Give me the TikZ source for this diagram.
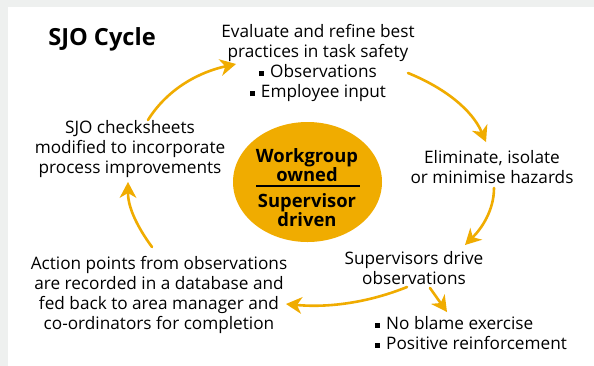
\documentclass[tikz,border=0pt]{standalone}
\usepackage{fontspec}
\setmainfont{Open Sans}
\usetikzlibrary{arrows.meta,shapes.geometric}
\definecolor{sjo}{HTML}{F0AC00}
\definecolor{bggrey}{HTML}{EEF0EF}
\tikzset{
  txt/.style={align=center, font=\fontsize{17.2}{20}\selectfont, inner sep=0pt},
  hubtxt/.style={align=center, font=\bfseries\fontsize{18.4}{18}\selectfont, inner sep=0pt},
  flow/.style={draw=sjo, line width=2.6pt, line cap=round,
    -{Stealth[length=16pt,width=17pt,inset=5pt,line width=0pt]}},
}
\newcommand{\sqbul}{\rule[1.5pt]{5pt}{5pt}\hspace{6pt}}
\begin{document}
\begin{tikzpicture}[x=1pt,y=-1pt]
\useasboundingbox (0,0) rectangle (594,365);
\fill[bggrey] (-5,-5) rectangle (600,370);
\fill[white] (8,7) rectangle (600,370);

\node[font=\bfseries\fontsize{23.6}{24}\selectfont, inner sep=0pt] (title) at (102,39) {SJO Cycle};

\node[ellipse, fill=sjo, minimum width=149pt, minimum height=120pt, inner sep=0pt] (hub) at (307.5,182) {};
\node[hubtxt] (hubA) at (307,165) {Workgroup\\owned};
\node[hubtxt] (hubB) at (307,210) {Supervisor\\driven};
\coordinate (ruleL) at (256,186);
\coordinate (ruleR) at (360,186);
\draw[line width=2.7pt] (ruleL) -- (ruleR);

\node[txt] (evaluate) at (318,63) {Evaluate and refine best\\practices in task safety\\\sqbul Observations\\\sqbul Employee input};
\node[txt] (eliminate) at (492,167) {Eliminate, isolate\\or minimise hazards};
\node[txt] (drive) at (414,268) {Supervisors drive\\observations};
\node[txt, align=left, anchor=west] (bullets) at (375,333) {\sqbul No blame exercise\\\sqbul Positive reinforcement};
\node[txt] (action) at (159,295) {Action points from observations\\are recorded in a database and\\fed back to area manager and\\co-ordinators for completion};
\node[txt] (checks) at (130,149.5) {SJO checksheets\\modified to incorporate\\process improvements};

\coordinate (a1s) at (148,120);
\coordinate (a1e) at (236,64);
\coordinate (a2s) at (408,73);
\coordinate (a2e) at (486,142);
\coordinate (a3s) at (494,188);
\coordinate (a3e) at (465,245);
\coordinate (a4s) at (407,287);
\coordinate (a4e) at (286,304);
\coordinate (a5s) at (430,288);
\coordinate (a5e) at (447,312);
\coordinate (a6s) at (152,247);
\coordinate (a6e) at (128,182);

\draw[flow] (a1s) .. controls (168,88) and (200,72) .. (a1e);
\draw[flow] (a2s) .. controls (445,88) and (472,110) .. (a2e);
\draw[flow] (a3s) .. controls (494,210) and (482,228) .. (a3e);
\draw[flow] (a4s) .. controls (370,302) and (330,308) .. (a4e);
\draw[flow] (a5s) -- (a5e);
\draw[flow] (a6s) .. controls (138,228) and (128,208) .. (a6e);
\end{tikzpicture}
\end{document}
